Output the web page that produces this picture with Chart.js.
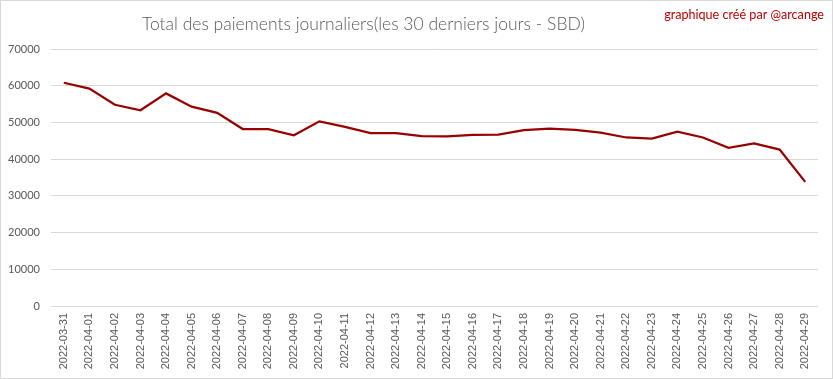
<!DOCTYPE html>
<html>
<head>
<meta charset="utf-8">
<script src="https://cdn.jsdelivr.net/npm/chart.js@4"></script>
<style>
  html, body { margin: 0; padding: 0; background: #fff; }
  #wrap { width: 833px; height: 379px; position: relative; }
  canvas { display: block; }
</style>
</head>
<body>
<div id="wrap"><canvas id="c" width="833" height="379"></canvas></div>
<script>
const chartTitle = "Total des paiements journaliers(les 30 derniers jours - SBD)";
const creditText = "graphique créé par @arcange";
const dates = [
  "2022-03-31","2022-04-01","2022-04-02","2022-04-03","2022-04-04","2022-04-05",
  "2022-04-06","2022-04-07","2022-04-08","2022-04-09","2022-04-10","2022-04-11",
  "2022-04-12","2022-04-13","2022-04-14","2022-04-15","2022-04-16","2022-04-17",
  "2022-04-18","2022-04-19","2022-04-20","2022-04-21","2022-04-22","2022-04-23",
  "2022-04-24","2022-04-25","2022-04-26","2022-04-27","2022-04-28","2022-04-29"
];
const payments = [
  60800, 59200, 54800, 53300, 57900, 54300,
  52600, 48200, 48200, 46500, 50300, 48800,
  47100, 47100, 46300, 46200, 46600, 46700,
  47900, 48300, 48000, 47200, 45900, 45600,
  47500, 45900, 43100, 44300, 42600, 33800
];
const yTicks = [0, 10000, 20000, 30000, 40000, 50000, 60000, 70000];

const decor = {
  id: 'decor',
  afterDraw(chart) {
    const ctx = chart.ctx;
    ctx.save();
    ctx.strokeStyle = '#d9d9d9';
    ctx.lineWidth = 1;
    ctx.strokeRect(0.5, 0.5, chart.width - 1, chart.height - 1);
    ctx.fillStyle = '#595959';
    ctx.font = '300 17.5px Lato, "Open Sans", sans-serif';
    ctx.textAlign = 'left';
    ctx.textBaseline = 'alphabetic';
    ctx.fillText(chartTitle, 142, 30);
    ctx.fillStyle = '#c00000';
    ctx.font = '12.6px Lato, "Open Sans", sans-serif';
    ctx.textAlign = 'right';
    ctx.fillText(creditText, 824, 19);
    ctx.restore();
  }
};

new Chart(document.getElementById('c'), {
  type: 'line',
  data: {
    labels: dates,
    datasets: [{
      data: payments,
      borderColor: '#990000',
      borderWidth: 2.25,
      pointRadius: 0,
      pointHoverRadius: 0,
      tension: 0,
      fill: false
    }]
  },
  options: {
    responsive: false,
    animation: false,
    events: [],
    layout: { padding: { top: 49, right: 15, bottom: 0, left: 0 } },
    plugins: { legend: { display: false }, tooltip: { enabled: false }, title: { display: false } },
    scales: {
      x: {
        offset: true,
        grid: { display: false, drawTicks: false },
        border: { display: false },
        ticks: {
          autoSkip: false, minRotation: 90, maxRotation: 90, padding: 7,
          color: '#595959', font: { family: '"Liberation Sans", Arial, sans-serif', size: 11 }
        },
        afterFit(s) { s.height = 73; }
      },
      y: {
        min: 0, max: 70000,
        afterBuildTicks(s) { s.ticks = yTicks.map(v => ({ value: v })); },
        grid: { color: '#d9d9d9', lineWidth: 1, drawTicks: false },
        border: { display: false },
        ticks: {
          padding: 11, color: '#595959',
          font: { family: 'Lato, "Open Sans", sans-serif', size: 11 },
          callback: v => String(v)
        },
        afterFit(s) { s.width = 51; }
      }
    }
  },
  plugins: [decor]
});
</script>
</body>
</html>
